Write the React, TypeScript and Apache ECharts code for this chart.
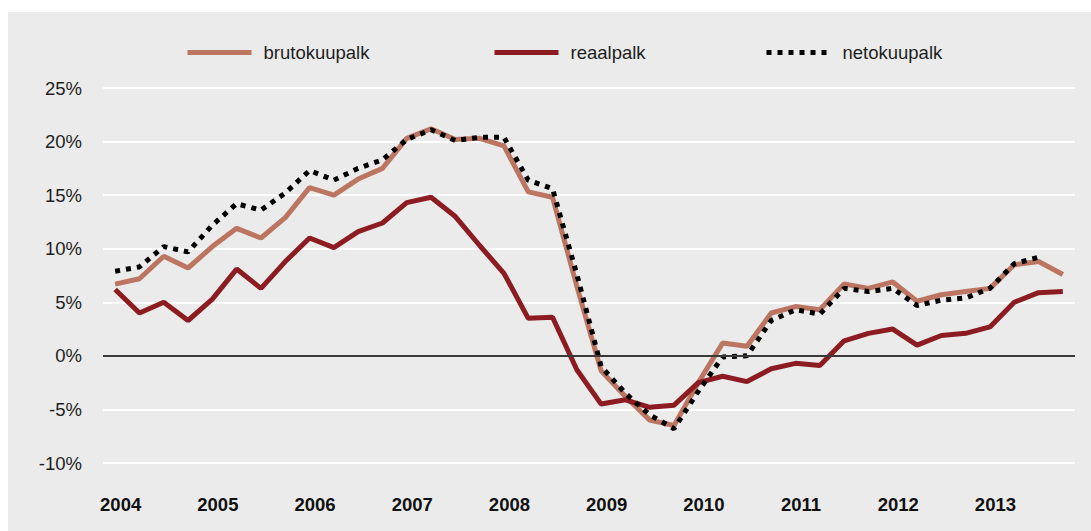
import React, { useEffect, useRef } from "react";
import * as echarts from "echarts";

const yearLabels = ["2004", "2005", "2006", "2007", "2008", "2009", "2010", "2011", "2012", "2013"];
const quarterNames = ["I", "II", "III", "IV"];
const categories = yearLabels.flatMap((y) => quarterNames.map((q) => `${y} ${q}`));

const seriesNames = ["brutokuupalk", "reaalpalk", "netokuupalk"];

const brutokuupalk = [
  6.7, 7.2, 9.3, 8.2, 10.2, 11.9, 11.0, 12.9, 15.7, 15.0,
  16.5, 17.5, 20.3, 21.2, 20.2, 20.3, 19.6, 15.3, 14.8, 6.5,
  -1.4, -3.8, -6.0, -6.5, -2.5, 1.2, 0.9, 4.0, 4.6, 4.3,
  6.7, 6.3, 6.9, 5.1, 5.7, 6.0, 6.3, 8.5, 8.8, 7.6,
];

const reaalpalk = [
  6.2, 4.0, 5.0, 3.3, 5.3, 8.1, 6.3, 8.8, 11.0, 10.1,
  11.6, 12.4, 14.3, 14.8, 13.0, 10.3, 7.7, 3.5, 3.6, -1.3,
  -4.5, -4.1, -4.8, -4.6, -2.5, -1.9, -2.4, -1.2, -0.7, -0.9,
  1.4, 2.1, 2.5, 1.0, 1.9, 2.1, 2.7, 5.0, 5.9, 6.0,
];

const netokuupalk = [
  7.9, 8.3, 10.2, 9.7, 12.2, 14.2, 13.6, 15.2, 17.3, 16.4,
  17.5, 18.3, 20.2, 21.1, 20.1, 20.4, 20.4, 16.4, 15.6, 7.6,
  -1.0, -3.5, -5.5, -6.8, -3.3, -0.1, 0.0, 3.3, 4.3, 3.9,
  6.3, 6.0, 6.3, 4.7, 5.2, 5.4, 6.3, 8.6, 9.2, null,
];

const colors = ["#BC7560", "#8C1C21", "#000000"];
const FONT = "'Liberation Sans', Arial, Helvetica, sans-serif";

export default function App() {
  const ref = useRef<HTMLDivElement>(null);
  useEffect(() => {
    if (!ref.current) return;
    const chart = echarts.init(ref.current, null, { renderer: "svg" });
    const legendText = { color: "#1e1e1e", fontSize: 18.5, fontFamily: FONT, padding: [0, 0, 0, 7] };
    const legendCommon = {
      top: 26,
      itemWidth: 64,
      itemHeight: 18,
      textStyle: legendText,
      itemStyle: { opacity: 0 },
      lineStyle: { width: 5 },
    };
    chart.setOption({
      animation: false,
      backgroundColor: "#EAEBEA",
      legend: [
        { ...legendCommon, data: [seriesNames[0]], left: 172 },
        { ...legendCommon, data: [seriesNames[1]], left: 479 },
        { ...legendCommon, data: [seriesNames[2]], left: 751 },
      ],
      grid: { left: 95, right: 16, top: 76, bottom: 68, containLabel: false, outerBoundsMode: "none" },
      xAxis: {
        type: "category",
        data: categories,
        boundaryGap: true,
        axisLine: { show: false, onZero: false },
        axisTick: { show: false },
        splitLine: { show: false },
        axisLabel: {
          interval: 3,
          formatter: (v: string) => v.split(" ")[0],
          fontWeight: "bold",
          fontSize: 18.5,
          fontFamily: FONT,
          color: "#111",
          margin: 32,
          padding: [0, 0, 0, 11],
        },
      },
      yAxis: {
        type: "value",
        min: -10,
        max: 25,
        interval: 5,
        axisLine: { show: false },
        axisTick: { show: false },
        splitLine: { lineStyle: { color: "#FFFFFF", width: 2 } },
        axisLabel: {
          formatter: "{value}%",
          fontSize: 18.5,
          fontFamily: FONT,
          color: "#1e1e1e",
          margin: 21,
        },
      },
      series: [
        {
          name: seriesNames[0],
          type: "line",
          data: brutokuupalk,
          symbol: "none",
          lineStyle: { color: colors[0], width: 5 },
          itemStyle: { color: colors[0] },
          markLine: {
            silent: true,
            symbol: "none",
            label: { show: false },
            lineStyle: { color: "#3a3a3a", width: 2, type: "solid" },
            data: [{ yAxis: 0 }],
          },
        },
        {
          name: seriesNames[1],
          type: "line",
          data: reaalpalk,
          symbol: "none",
          lineStyle: { color: colors[1], width: 5 },
          itemStyle: { color: colors[1] },
        },
        {
          name: seriesNames[2],
          type: "line",
          data: netokuupalk,
          symbol: "none",
          lineStyle: { color: colors[2], width: 5, type: [5, 6], cap: "butt" },
          itemStyle: { color: colors[2] },
        },
      ],
    });
    return () => chart.dispose();
  }, []);
  return (
    <div
      ref={ref}
      style={{ position: "absolute", left: 8, top: 12, width: 1083, height: 519, background: "#EAEBEA" }}
    />
  );
}
